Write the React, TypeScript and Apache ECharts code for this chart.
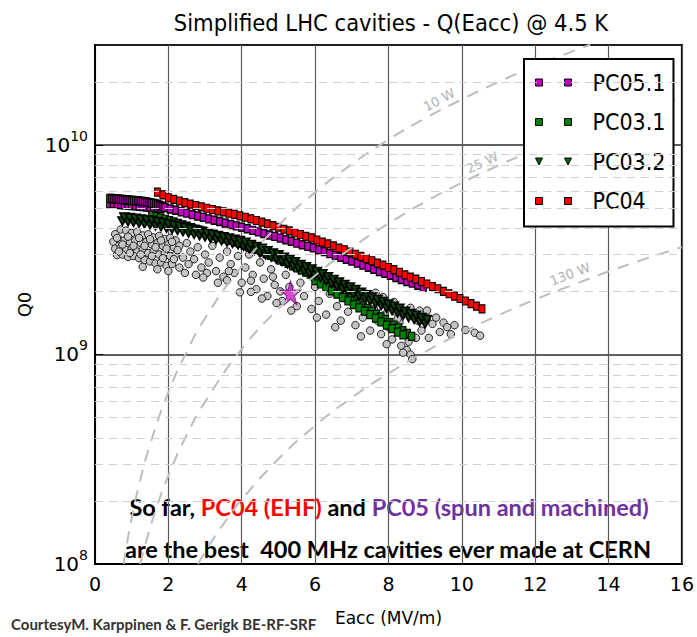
import React, { useEffect, useRef } from "react";
import * as echarts from "echarts";

// ---------- data (Q values in units of 1e9) ----------
const xMin = 0;
const xMax = 16;
const xInterval = 2;
const yMin = 1e8;
const yMax = 3e10;
const minorGridQ = [2e8, 3e8, 4e8, 5e8, 6e8, 7e8, 8e8, 9e8, 2e9, 3e9, 4e9, 5e9, 6e9, 7e9, 8e9, 9e9, 2e10];

const pc04E = [1.7, 1.85, 2.0, 2.15, 2.3, 2.45, 2.6, 2.75, 2.9, 3.05, 3.2, 3.35, 3.5, 3.65, 3.8, 3.95, 4.1, 4.25, 4.4, 4.55, 4.7, 4.85, 5.0, 5.15, 5.3, 5.45, 5.6, 5.75, 5.9, 6.05, 6.2, 6.35, 6.5, 6.65, 6.8, 6.95, 7.1, 7.25, 7.4, 7.55, 7.7, 7.85, 8.0, 8.15, 8.3, 8.45, 8.6, 8.75, 8.9, 9.05, 9.2, 9.35, 9.5, 9.65, 9.8, 9.95, 10.1, 10.25, 10.4, 10.55];
const pc04Q = [5.96, 5.78, 5.60, 5.50, 5.40, 5.31, 5.22, 5.14, 5.06, 4.99, 4.92, 4.85, 4.79, 4.72, 4.66, 4.59, 4.52, 4.44, 4.36, 4.28, 4.20, 4.12, 4.05, 3.96, 3.89, 3.81, 3.74, 3.66, 3.60, 3.52, 3.44, 3.37, 3.30, 3.22, 3.16, 3.08, 3.01, 2.94, 2.87, 2.80, 2.73, 2.67, 2.60, 2.54, 2.47, 2.40, 2.34, 2.29, 2.23, 2.17, 2.11, 2.06, 2.00, 1.95, 1.90, 1.85, 1.80, 1.75, 1.70, 1.65];

const pc05StartBE = [0.4, 0.5, 0.6, 0.7, 0.8, 0.9, 1.0, 1.1, 1.2, 1.3, 1.4, 1.5, 1.6, 1.7, 1.8];
const pc05StartBQ = [5.25, 5.24, 5.22, 5.20, 5.18, 5.16, 5.14, 5.12, 5.10, 5.08, 5.06, 5.04, 5.02, 5.00, 4.98];
const pc05StartAE = [0.4, 0.45, 0.5, 0.55, 0.6, 0.65, 0.7, 0.75, 0.8, 0.85, 0.9, 0.95, 1.0, 1.05, 1.1, 1.15, 1.2, 1.25, 1.3, 1.35, 1.4, 1.45, 1.5, 1.55, 1.6, 1.65, 1.7, 1.75, 1.8, 1.85];
const pc05StartAQ = [5.56, 5.55, 5.54, 5.53, 5.52, 5.51, 5.50, 5.49, 5.48, 5.47, 5.46, 5.45, 5.44, 5.43, 5.42, 5.41, 5.40, 5.38, 5.37, 5.35, 5.34, 5.32, 5.30, 5.28, 5.26, 5.23, 5.20, 5.16, 5.12, 5.08];
const pc05MainE = [1.9, 2.05, 2.2, 2.35, 2.5, 2.65, 2.8, 2.95, 3.1, 3.25, 3.4, 3.55, 3.7, 3.85, 4.0, 4.15, 4.3, 4.45, 4.6, 4.75, 4.9, 5.05, 5.2, 5.35, 5.5, 5.65, 5.8, 5.95, 6.1, 6.25, 6.4, 6.55, 6.7, 6.85, 7.0, 7.15, 7.3, 7.45, 7.6, 7.75, 7.9, 8.05, 8.2, 8.35, 8.5, 8.65, 8.8, 8.95];
const pc05MainQ = [5.03, 4.95, 4.88, 4.80, 4.73, 4.65, 4.58, 4.51, 4.44, 4.37, 4.31, 4.24, 4.17, 4.11, 4.05, 3.98, 3.91, 3.85, 3.78, 3.72, 3.66, 3.59, 3.53, 3.47, 3.40, 3.34, 3.28, 3.23, 3.16, 3.10, 3.03, 2.97, 2.91, 2.85, 2.79, 2.73, 2.67, 2.61, 2.55, 2.49, 2.44, 2.39, 2.33, 2.28, 2.23, 2.19, 2.14, 2.09];

const pc031E = [1.55, 1.67, 1.79, 1.91, 2.03, 2.15, 2.27, 2.39, 2.51, 2.63, 2.75, 2.87, 2.99, 3.11, 3.23, 3.35, 3.47, 3.59, 3.71, 3.83, 3.95, 4.07, 4.19, 4.31, 4.43, 4.55, 4.67, 4.79, 4.91, 5.03, 5.15, 5.27, 5.39, 5.51, 5.63, 5.75, 5.87, 5.99, 6.11, 6.23, 6.35, 6.47, 6.59, 6.71, 6.83, 6.95, 7.07, 7.19, 7.31, 7.43, 7.55, 7.67, 7.79, 7.91, 8.03, 8.15, 8.27, 8.39, 8.51, 8.63];
const pc031Q = [4.62, 4.55, 4.49, 4.42, 4.35, 4.29, 4.22, 4.16, 4.10, 4.03, 3.97, 3.91, 3.85, 3.79, 3.73, 3.67, 3.61, 3.56, 3.50, 3.44, 3.39, 3.33, 3.26, 3.20, 3.14, 3.09, 3.03, 2.97, 2.92, 2.85, 2.78, 2.72, 2.65, 2.59, 2.53, 2.47, 2.42, 2.36, 2.29, 2.23, 2.16, 2.10, 2.04, 1.98, 1.93, 1.87, 1.82, 1.76, 1.71, 1.66, 1.61, 1.56, 1.51, 1.47, 1.42, 1.38, 1.34, 1.30, 1.26, 1.22];
const pc031BE = [6.0, 6.15, 6.3, 6.45, 6.6, 6.75, 6.9, 7.05, 7.2, 7.35, 7.5, 7.65, 7.8, 7.95, 8.1, 8.25, 8.4];
const pc031BQ = [2.25, 2.17, 2.09, 2.01, 1.94, 1.87, 1.80, 1.73, 1.67, 1.61, 1.55, 1.49, 1.43, 1.38, 1.33, 1.28, 1.24];

const pc032AE = [0.75, 0.9, 1.05, 1.2, 1.35, 1.5, 1.65, 1.8, 1.95, 2.1, 2.25, 2.4, 2.55, 2.7, 2.85, 3.0, 3.15, 3.3, 3.45, 3.6, 3.75, 3.9, 4.05, 4.2, 4.35, 4.5, 4.65, 4.8, 4.95, 5.1, 5.25, 5.4, 5.55, 5.7, 5.85, 6.0, 6.15, 6.3, 6.45, 6.6, 6.75, 6.9, 7.05, 7.2, 7.35, 7.5, 7.65, 7.8, 7.95, 8.1, 8.25, 8.4, 8.55, 8.7, 8.85, 9.0];
const pc032AQ = [4.33, 4.30, 4.27, 4.23, 4.20, 4.17, 4.11, 4.07, 4.01, 3.96, 3.91, 3.86, 3.80, 3.75, 3.69, 3.64, 3.58, 3.54, 3.49, 3.44, 3.39, 3.34, 3.28, 3.20, 3.13, 3.06, 2.99, 2.92, 2.86, 2.78, 2.71, 2.64, 2.57, 2.50, 2.45, 2.38, 2.32, 2.25, 2.18, 2.12, 2.06, 2.00, 1.94, 1.90, 1.85, 1.80, 1.75, 1.71, 1.66, 1.62, 1.58, 1.54, 1.50, 1.47, 1.43, 1.40];
const pc032BE = [0.8, 0.95, 1.1, 1.25, 1.4, 1.55, 1.7, 1.85, 2.0, 2.15, 2.3, 2.45, 2.6, 2.75, 2.9, 3.05, 3.2, 3.35, 3.5, 3.65, 3.8, 3.95, 4.1, 4.25, 4.4, 4.55, 4.7, 4.85, 5.0, 5.15, 5.3, 5.45, 5.6, 5.75, 5.9, 6.05, 6.2, 6.35, 6.5, 6.65, 6.8, 6.95, 7.1, 7.25, 7.4, 7.55, 7.7, 7.85, 8.0, 8.15, 8.3, 8.45, 8.6, 8.75, 8.9, 9.05];
const pc032BQ = [4.53, 4.50, 4.47, 4.43, 4.40, 4.37, 4.31, 4.26, 4.19, 4.14, 4.09, 4.04, 3.98, 3.93, 3.87, 3.81, 3.75, 3.70, 3.65, 3.60, 3.55, 3.50, 3.43, 3.35, 3.28, 3.21, 3.13, 3.05, 2.99, 2.91, 2.84, 2.77, 2.69, 2.62, 2.56, 2.49, 2.43, 2.35, 2.28, 2.22, 2.16, 2.10, 2.04, 1.98, 1.93, 1.88, 1.83, 1.79, 1.74, 1.70, 1.66, 1.61, 1.57, 1.54, 1.50, 1.47];

// other cavities (grey circles): [Eacc, Q0 / 1e9]
const otherCavities = [
  [0.55, 3.75], [0.7, 3.95], [0.85, 3.9], [1.0, 3.8], [1.15, 3.85], [1.3, 3.7], [1.45, 3.75], [1.6, 3.62], [1.75, 3.68], [1.9, 3.55], [2.05, 3.6], [2.2, 3.5],
  [0.5, 3.45], [0.65, 3.55], [0.8, 3.5], [0.95, 3.45], [1.1, 3.5], [1.25, 3.4], [1.4, 3.45], [1.55, 3.35], [1.7, 3.4], [1.85, 3.3], [2.0, 3.35], [2.15, 3.25], [2.3, 3.3],
  [0.55, 3.2], [0.7, 3.25], [0.85, 3.15], [1.0, 3.2], [1.15, 3.1], [1.3, 3.15], [1.45, 3.05], [1.6, 3.1], [1.75, 3.0], [1.9, 3.05], [2.05, 2.95], [2.2, 3.0], [2.4, 2.9],
  [0.6, 2.98], [0.75, 3.0], [0.9, 2.92], [1.05, 2.95], [1.2, 2.88], [1.35, 2.82], [1.5, 2.78], [1.65, 2.72], [1.8, 2.75], [1.95, 2.65], [2.1, 2.7], [2.3, 2.6],
  [1.3, 2.62], [1.7, 2.55], [2.0, 2.5], [2.45, 2.45],
  [0.6, 3.6], [0.9, 3.65], [1.2, 3.6], [1.5, 3.55], [1.8, 3.5], [2.1, 3.45], [0.75, 3.35], [1.05, 3.3], [1.35, 3.3], [1.65, 3.25], [1.95, 3.2], [2.25, 3.15], [0.65, 3.1], [0.95, 3.05], [1.25, 3.0], [1.55, 2.95], [1.85, 2.88], [2.15, 2.85],
  [2.5, 3.4], [2.6, 3.1], [2.7, 2.85], [2.8, 3.25], [2.9, 2.6], [3.0, 3.0], [3.1, 2.75], [3.2, 3.3], [3.3, 2.5], [3.4, 2.9], [3.5, 2.35], [3.6, 3.1], [3.7, 2.7], [3.8, 2.45], [3.9, 2.95], [4.0, 2.2], [4.1, 2.6], [4.2, 3.0], [4.3, 2.4], [4.4, 2.05], [4.5, 2.75], [4.6, 2.3], [4.7, 1.9], [4.8, 2.55], [4.9, 2.15], [5.0, 2.8], [5.1, 1.8], [5.2, 2.4], [5.3, 2.1], [5.45, 2.6], [5.5, 1.7],
  [2.75, 2.4], [3.35, 2.2], [3.95, 1.98], [4.55, 1.85], [5.05, 2.0], [2.55, 2.7], [3.05, 2.45], [3.65, 2.5], [4.25, 2.25], [4.85, 2.35], [2.95, 2.33], [4.25, 1.99], [4.95, 1.76], [5.35, 1.62], [3.6, 2.26],
  [5.6, 2.2], [5.7, 1.9], [5.8, 2.45], [5.9, 1.65], [6.0, 2.1], [6.1, 1.8], [6.2, 2.35], [6.3, 1.55], [6.4, 1.95], [6.5, 2.2], [6.6, 1.7], [6.7, 1.45], [6.8, 2.0], [6.9, 1.6], [7.0, 1.85], [7.1, 1.38], [7.2, 1.75], [7.3, 1.5], [7.4, 1.95], [7.5, 1.3], [7.6, 1.65], [7.7, 1.45], [7.8, 1.25], [7.9, 1.55], [8.0, 1.35], [8.1, 1.18], [8.2, 1.6], [8.3, 1.42], [8.35, 1.1], [8.45, 1.25], [8.5, 1.05], [8.6, 1.0], [8.65, 0.95], [6.05, 1.5], [6.55, 1.35], [7.25, 1.22], [7.95, 1.12], [8.25, 1.48], [8.55, 1.15], [8.4, 1.02],
  [7.65, 1.97], [7.85, 1.88], [8.15, 1.78], [8.6, 1.67], [8.85, 1.62],
  [8.8, 1.45], [8.9, 1.3], [9.0, 1.55], [9.1, 1.2], [9.2, 1.4], [9.3, 1.5], [9.4, 1.28], [9.5, 1.42], [9.6, 1.35], [9.7, 1.25], [9.8, 1.38], [10.1, 1.31], [10.35, 1.27], [10.5, 1.23], [8.75, 1.2], [9.05, 1.62],
];

const starPoint = [[5.33, 1.97]];

// dissipated-power reference curves: [Eacc, Q0]
const p10W = [[0.78, 1.0e8], [0.9, 1.34e8], [1.0, 1.65e8], [1.2, 2.38e8], [1.5, 3.71e8], [2.0, 6.6e8], [2.5, 1.03e9], [3.0, 1.49e9], [4.0, 2.64e9], [5.0, 4.13e9], [6.0, 5.94e9], [7.0, 8.09e9], [8.0, 1.06e10], [9.0, 1.34e10], [10.0, 1.65e10], [11.0, 2.0e10], [12.0, 2.38e10], [13.0, 2.79e10], [13.5, 3.01e10]];
const p25W = [[1.23, 1.0e8], [1.4, 1.29e8], [1.7, 1.91e8], [2.0, 2.64e8], [2.5, 4.13e8], [3.0, 5.94e8], [4.0, 1.06e9], [5.0, 1.65e9], [6.0, 2.38e9], [7.0, 3.23e9], [8.0, 4.22e9], [9.0, 5.35e9], [10.0, 6.6e9], [11.0, 7.99e9], [12.0, 9.5e9], [13.0, 1.12e10], [14.0, 1.29e10], [15.0, 1.49e10], [16.0, 1.69e10]];
const p130W = [[2.81, 1.0e8], [3.2, 1.3e8], [3.6, 1.64e8], [4.0, 2.03e8], [5.0, 3.17e8], [6.0, 4.57e8], [7.0, 6.22e8], [8.0, 8.12e8], [9.0, 1.03e9], [10.0, 1.27e9], [11.0, 1.54e9], [12.0, 1.83e9], [13.0, 2.14e9], [14.0, 2.49e9], [15.0, 2.86e9], [16.0, 3.25e9]];
const powerLabels = [
  { text: "10 W", e: 9.38, q: 1.64e10, angle: 28 },
  { text: "25 W", e: 10.56, q: 8.25e9, angle: 25 },
  { text: "130 W", e: 12.95, q: 2.42e9, angle: 21 },
];

const titleText = "Simplified LHC cavities - Q(Eacc) @ 4.5 K";
const xName = "Eacc (MV/m)";
const yName = "Q0";
const courtesy = "CourtesyM. Karppinen & F. Gerigk BE-RF-SRF";

// ---------- helpers ----------
const zip = (es: number[], qs: number[]) => es.slice(0, Math.min(es.length, qs.length)).map((e, i) => [e, qs[i] * 1e9]);
const scale9 = (pts: number[][]) => pts.map((p) => [p[0], p[1] * 1e9]);

const NARROW = "'DejaVu Sans Condensed', 'DejaVu Sans', sans-serif";
const DEJAVU = "'DejaVu Sans', sans-serif";

export default function App() {
  const ref = useRef<HTMLDivElement>(null);

  useEffect(() => {
    if (!ref.current) return;
    const chart = echarts.init(ref.current, undefined, { renderer: "svg" });

    const sq = "path://M0,0h7v7h-7z M29,0h7v7h-7z";
    const tri = "path://M0,0h7l-3.5,7z M29,0h7l-3.5,7z";
    const borderStyle = { borderColor: "#000", borderWidth: 1 };

    const markerSeries = (name: string, data: number[][], color: string, symbol: string, size: number[], rotate = 0, bw = 1) => ({
      name,
      type: "scatter",
      data,
      symbol,
      symbolSize: size,
      symbolRotate: rotate,
      itemStyle: { color, borderColor: "#000", borderWidth: bw, opacity: 1 },
      emphasis: { disabled: true },
      clip: true,
    });

    const powerLine = (name: string, data: number[][], extra: any = {}) => ({
      name,
      type: "line",
      data,
      smooth: true,
      showSymbol: false,
      symbol: "none",
      silent: true,
      clip: true,
      lineStyle: { color: "#bdbdbd", width: 2, type: [12, 9] },
      ...extra,
    });

    const option: any = {
      animation: false,
      backgroundColor: "#ffffff",
      title: {
        text: titleText,
        left: 391,
        top: 11,
        textAlign: "center",
        padding: 0,
        textStyle: { fontFamily: NARROW, fontSize: 23.5, fontWeight: "normal", color: "#000" },
      },
      grid: { left: 95, right: 11, top: 45, bottom: 73, show: true, borderColor: "#000", borderWidth: 2, backgroundColor: "transparent" },
      legend: {
        orient: "vertical",
        left: 524,
        top: 59,
        padding: [12, 8, 14, 11],
        itemGap: 16.5,
        itemWidth: 36,
        itemHeight: 7,
        backgroundColor: "#fff",
        borderColor: "#000",
        borderWidth: 2,
        selectedMode: false,
        data: [
          { name: "PC05.1", icon: sq, itemStyle: { color: "#bf00bf", ...borderStyle } },
          { name: "PC03.1", icon: sq, itemStyle: { color: "#008000", ...borderStyle } },
          { name: "PC03.2", icon: tri, itemStyle: { color: "#006400", ...borderStyle } },
          { name: "PC04", icon: sq, itemStyle: { color: "#ff0000", ...borderStyle } },
        ],
        formatter: (n: string) => `{t|${n}}`,
        textStyle: {
          color: "#000",
          fontFamily: NARROW,
          fontSize: 23,
          rich: { t: { fontFamily: NARROW, fontSize: 23, color: "#000", padding: [0, 0, 0, 16] } },
        },
      },
      xAxis: {
        type: "value",
        min: xMin,
        max: xMax,
        interval: xInterval,
        name: xName,
        nameLocation: "middle",
        nameGap: 45,
        nameTextStyle: { fontFamily: DEJAVU, fontSize: 17, color: "#000" },
        axisLine: { show: true, lineStyle: { color: "#000", width: 2 } },
        axisTick: { show: false },
        axisLabel: { fontFamily: DEJAVU, fontSize: 19, color: "#000", margin: 10 },
        splitLine: { show: true, lineStyle: { color: "#5a5a5a", width: 1.2 } },
      },
      yAxis: {
        type: "log",
        logBase: 10,
        min: yMin,
        max: yMax,
        name: yName,
        nameLocation: "middle",
        nameGap: 53,
        nameTextStyle: { fontFamily: DEJAVU, fontSize: 18, color: "#000" },
        axisLine: { show: true, lineStyle: { color: "#000", width: 2 } },
        axisTick: { show: true, inside: true, length: 8, lineStyle: { color: "#000", width: 1 } },
        axisLabel: {
          margin: 7,
          showMaxLabel: false,
          formatter: (v: number) => {
            const l = Math.log10(v);
            const e = Math.round(l);
            if (Math.abs(l - e) > 1e-6) return "";
            return `{b|10}{s|${e}}`;
          },
          rich: {
            b: { fontFamily: DEJAVU, fontSize: 20, color: "#000" },
            s: { fontFamily: DEJAVU, fontSize: 14, color: "#000", padding: [0, 0, 18, 0] },
          },
        },
        splitLine: { show: true, lineStyle: { color: "#2a2a2a", width: 1.5 } },
      },
      graphic: [
        {
          type: "text",
          x: 389,
          y: 507,
          silent: true,
          style: {
            text: "{k|So far, }{r|PC04 (EHF)}{k| and }{p|PC05 (spun and machined)}",
            align: "center",
            verticalAlign: "middle",
            rich: {
              k: { fontFamily: "Lato", fontWeight: "bold", fontSize: 23.5, fill: "#000", color: "#000" },
              r: { fontFamily: "Lato", fontWeight: "bold", fontSize: 23.5, fill: "#ff0000", color: "#ff0000" },
              p: { fontFamily: "Lato", fontWeight: "bold", fontSize: 23.5, fill: "#7030a0", color: "#7030a0" },
            },
          },
        },
        {
          type: "text",
          x: 388,
          y: 549,
          silent: true,
          style: {
            text: "are the best  400 MHz cavities ever made at CERN",
            align: "center",
            verticalAlign: "middle",
            font: "bold 23.5px Lato",
            fill: "#000",
          },
        },
        {
          type: "text",
          x: 11,
          y: 624,
          silent: true,
          style: { text: courtesy, verticalAlign: "middle", font: "bold 15px Lato", fill: "#333" },
        },
      ],
      series: [
        powerLine("10 W", p10W, {
          markLine: {
            silent: true,
            symbol: ["none", "none"],
            label: { show: false },
            lineStyle: { color: "#cfcfcf", width: 1, type: [8, 6] },
            data: minorGridQ.map((v) => ({ yAxis: v })),
          },
        }),
        powerLine("25 W", p25W),
        powerLine("130 W", p130W),
        {
          name: "power labels",
          type: "scatter",
          symbol: "circle",
          symbolSize: 1,
          silent: true,
          itemStyle: { color: "rgba(0,0,0,0)" },
          data: powerLabels.map((p) => ({ name: p.text, value: [p.e, p.q], label: { rotate: p.angle } })),
          label: { show: true, position: "inside", formatter: "{b}", fontFamily: DEJAVU, fontSize: 13, color: "#9a9a9a" },
          labelLayout: { hideOverlap: false },
        },
        {
          name: "other cavities",
          type: "scatter",
          data: scale9(otherCavities),
          symbol: "circle",
          symbolSize: 7.5,
          itemStyle: { color: "#c4c4c4", borderColor: "#222", borderWidth: 1, opacity: 1 },
          emphasis: { disabled: true },
        },
        markerSeries("PC05.1", [...zip(pc05StartBE, pc05StartBQ), ...zip(pc05StartAE, pc05StartAQ), ...zip(pc05MainE, pc05MainQ)], "#bf00bf", "rect", [6, 8], 0, 1.2),
        markerSeries("PC03.1", [...zip(pc031E, pc031Q), ...zip(pc031BE, pc031BQ)], "#008000", "rect", [6.5, 8], 0, 1.1),
        markerSeries("PC03.2", [...zip(pc032AE, pc032AQ), ...zip(pc032BE, pc032BQ)], "#0b4a0b", "triangle", [9, 8], 180, 1.6),
        markerSeries("PC04", zip(pc04E, pc04Q), "#ff0000", "rect", [6, 8]),
        {
          name: "star",
          type: "scatter",
          data: scale9(starPoint),
          symbol: "path://M50,0 L61,35 L98,35 L68,57 L79,91 L50,70 L21,91 L32,57 L2,35 L39,35 Z",
          symbolSize: [21, 24],
          itemStyle: { color: "#c81ec8", borderColor: "#6a006a", borderWidth: 1 },
          emphasis: { disabled: true },
        },
      ],
    };

    chart.setOption(option);
    return () => chart.dispose();
  }, []);

  return (
    <div
      ref={ref}
      style={{ position: "absolute", left: 0, top: 0, width: 697, height: 637, background: "#fff" }}
    />
  );
}
